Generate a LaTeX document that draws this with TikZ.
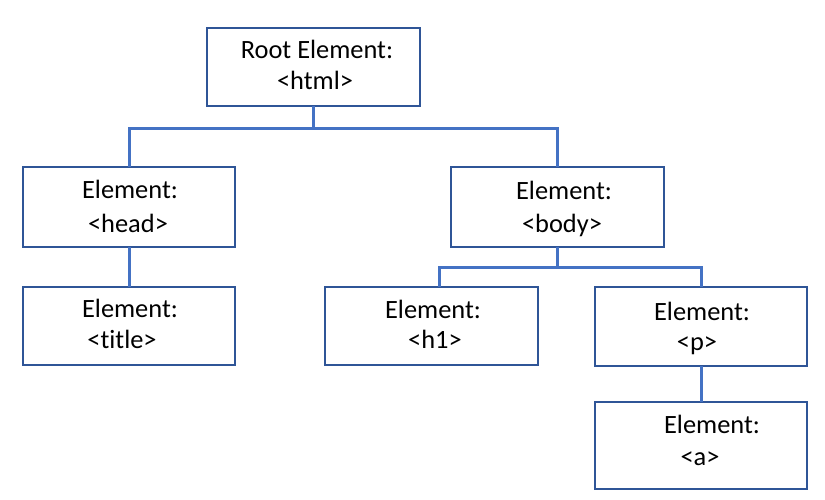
\documentclass[tikz,border=0pt]{standalone}
\usepackage{fontspec}
\setmainfont[Ligatures={NoCommon}]{Carlito}
\definecolor{boxblue}{HTML}{2F5597}
\definecolor{linkblue}{HTML}{4472C4}
\begin{document}
\begin{tikzpicture}[x=1pt,y=-1pt,
  box/.style={draw=boxblue, line width=2.4pt, inner sep=0pt, outer sep=0pt, fill=white},
  conn/.style={draw=linkblue, line width=3pt},
  lbl/.style={anchor=base, inner sep=0pt, font=\fontsize{26.4}{32}\selectfont}]
\useasboundingbox (0,0) rectangle (825,500);
% boxes
\node (root)  [box, minimum width=213pt, minimum height=78pt] at (313.5,67) {};
\node (head)  [box, minimum width=212pt, minimum height=80pt] at (129,207) {};
\node (title) [box, minimum width=212pt, minimum height=78pt] at (129,326) {};
\node (body)  [box, minimum width=213pt, minimum height=80pt] at (557.5,207) {};
\node (h1)    [box, minimum width=213pt, minimum height=78pt] at (431.5,326) {};
\node (p)     [box, minimum width=212pt, minimum height=79pt] at (701,326.5) {};
\node (a)     [box, minimum width=212pt, minimum height=87pt] at (701,445.5) {};
% junctions
\coordinate (j1) at (313.5,129);
\coordinate (j2) at (557.5,267);
% connectors
\draw[conn] (root.south) -- (j1);
\draw[conn] (head.north) |- (j1) -| (body.north);
\draw[conn] (head.south) -- (title.north);
\draw[conn] (body.south) -- (j2);
\draw[conn] ([xshift=7.5pt]h1.north) |- (j2) -| (p.north);
\draw[conn] (p.south) -- (a.north);
% labels
\node (rootA)  [lbl] at (317,59) {Root Element:};
\node (rootB)  [lbl] at (315,90) {<html>};
\node (headA)  [lbl] at (130,199) {Element:};
\node (headB)  [lbl] at (128,232) {<head>};
\node (titleA) [lbl] at (130,317) {Element:};
\node (titleB) [lbl] at (122,348) {<title>};
\node (bodyA)  [lbl] at (564,200) {Element:};
\node (bodyB)  [lbl] at (562,232) {<body>};
\node (h1A)    [lbl] at (433,318) {Element:};
\node (h1B)    [lbl] at (435,348) {<h1>};
\node (pA)     [lbl] at (702,320) {Element:};
\node (pB)     [lbl] at (697,350) {<p>};
\node (aA)     [lbl] at (712,433) {Element:};
\node (aB)     [lbl] at (700,465) {<a>};
\end{tikzpicture}
\end{document}
